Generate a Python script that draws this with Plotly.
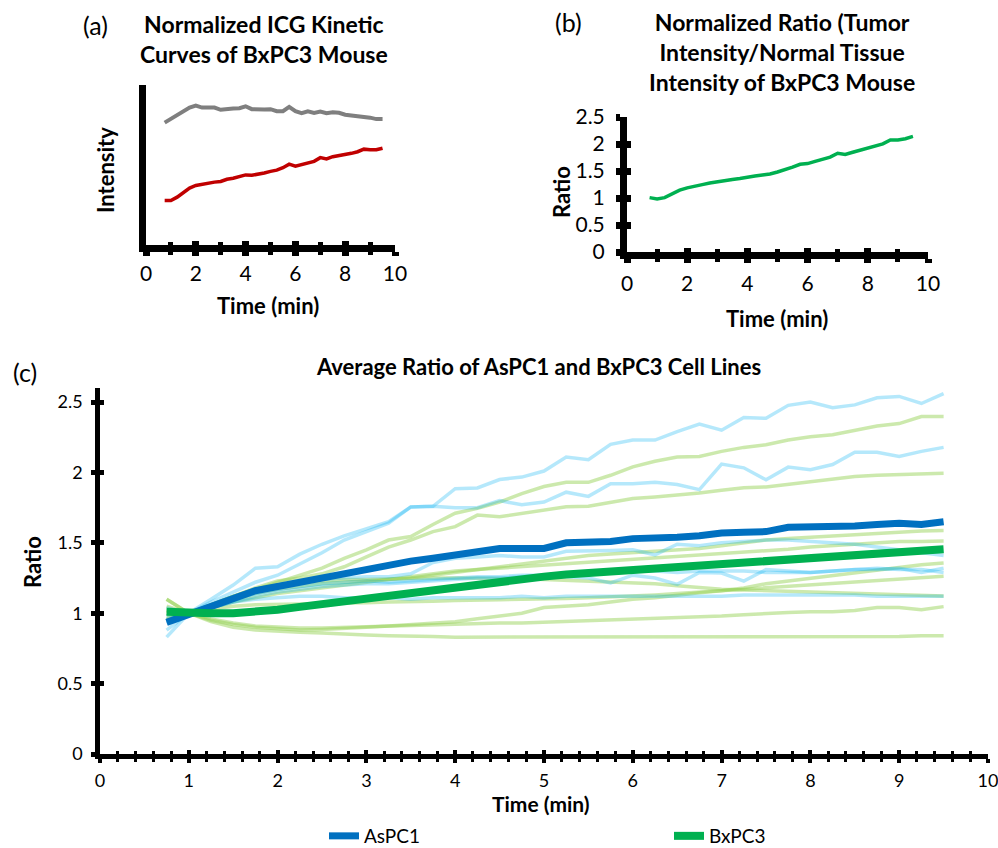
import plotly.graph_objects as go

W, H = 998, 848
FONT = "Lato"

# ---------------- data ----------------
time_min = [0.75, 1.0, 1.25, 1.5, 1.75, 2.0, 2.25, 2.5, 2.75, 3.0, 3.25, 3.5,
            3.75, 4.0, 4.25, 4.5, 4.75, 5.0, 5.25, 5.5, 5.75, 6.0, 6.25, 6.5,
            6.75, 7.0, 7.25, 7.5, 7.75, 8.0, 8.25, 8.5, 8.75, 9.0, 9.25, 9.5]

# (a) normalized ICG kinetic curves (arbitrary intensity units)
normal_tissue = [0.765, 0.789, 0.818, 0.836, 0.859, 0.871, 0.859, 0.859, 0.859, 0.845, 0.851, 0.853,
                 0.855, 0.867, 0.849, 0.845, 0.847, 0.849, 0.836, 0.836, 0.863, 0.836, 0.824, 0.836,
                 0.826, 0.834, 0.824, 0.830, 0.826, 0.814, 0.810, 0.810, 0.804, 0.796, 0.787, 0.787]
tumor = [0.278, 0.278, 0.299, 0.325, 0.356, 0.372, 0.380, 0.387, 0.393, 0.397, 0.411, 0.417,
         0.425, 0.438, 0.436, 0.442, 0.450, 0.460, 0.468, 0.483, 0.505, 0.493, 0.503, 0.517,
         0.523, 0.546, 0.538, 0.552, 0.558, 0.564, 0.573, 0.583, 0.599, 0.595, 0.595, 0.605]

# (b) tumor / normal ratio
ratio_bxpc3_mouse = [1.007, 0.983, 1.007, 1.079, 1.145, 1.187, 1.223, 1.247, 1.277, 1.301, 1.331, 1.343,
                     1.361, 1.391, 1.409, 1.427, 1.445, 1.481, 1.523, 1.571, 1.625, 1.637, 1.679, 1.721,
                     1.757, 1.829, 1.805, 1.847, 1.883, 1.919, 1.960, 2.002, 2.074, 2.074, 2.098, 2.140]

# (c) individual AsPC1 mice
aspc1_mice = [
    [0.83, 1.00, 1.10, 1.20, 1.32, 1.33, 1.42, 1.49, 1.55, 1.60, 1.65, 1.755,
     1.76, 1.885, 1.89, 1.95, 1.967, 2.01, 2.11, 2.09, 2.20, 2.23, 2.23, 2.29,
     2.343, 2.30, 2.39, 2.385, 2.477, 2.50, 2.46, 2.48, 2.53, 2.54, 2.49, 2.56],
    [0.88, 1.00, 1.08, 1.15, 1.22, 1.27, 1.35, 1.43, 1.52, 1.58, 1.64, 1.755,
     1.76, 1.75, 1.75, 1.80, 1.77, 1.79, 1.86, 1.83, 1.92, 1.92, 1.93, 1.915,
     1.878, 2.06, 2.033, 1.948, 2.038, 2.02, 2.056, 2.143, 2.143, 2.113, 2.15, 2.178],
    [0.95, 1.00, 1.06, 1.12, 1.17, 1.20, 1.22, 1.24, 1.25, 1.26, 1.26, 1.28,
     1.36, 1.39, 1.40, 1.41, 1.40, 1.40, 1.44, 1.44, 1.445, 1.45, 1.415, 1.49,
     1.48, 1.50, 1.51, 1.52, 1.52, 1.51, 1.50, 1.49, 1.47, 1.45, 1.43, 1.41],
    [0.98, 1.00, 1.05, 1.10, 1.14, 1.17, 1.19, 1.21, 1.22, 1.23, 1.22, 1.23,
     1.24, 1.25, 1.26, 1.26, 1.27, 1.27, 1.26, 1.25, 1.215, 1.27, 1.25, 1.205,
     1.29, 1.285, 1.228, 1.31, 1.30, 1.29, 1.30, 1.31, 1.31, 1.32, 1.29, 1.32],
    [0.93, 1.00, 1.04, 1.08, 1.12, 1.15, 1.17, 1.19, 1.20, 1.21, 1.21, 1.22,
     1.23, 1.24, 1.25, 1.25, 1.26, 1.27, 1.28, 1.29, 1.29, 1.30, 1.30, 1.29,
     1.30, 1.30, 1.30, 1.29, 1.29, 1.29, 1.30, 1.31, 1.32, 1.31, 1.31, 1.29],
    [1.04, 1.00, 1.04, 1.08, 1.10, 1.11, 1.12, 1.12, 1.11, 1.11, 1.11, 1.10,
     1.11, 1.11, 1.11, 1.11, 1.12, 1.11, 1.12, 1.12, 1.12, 1.12, 1.12, 1.12,
     1.12, 1.12, 1.13, 1.13, 1.13, 1.13, 1.13, 1.13, 1.12, 1.12, 1.12, 1.12],
]

# (c) individual BxPC3 mice
bxpc3_mice = [
    [0.98, 1.00, 1.06, 1.12, 1.17, 1.22, 1.27, 1.32, 1.39, 1.45, 1.52, 1.545,
     1.63, 1.71, 1.745, 1.79, 1.85, 1.90, 1.93, 1.93, 1.98, 2.04, 2.08, 2.11,
     2.113, 2.15, 2.178, 2.197, 2.23, 2.254, 2.268, 2.30, 2.33, 2.347, 2.397, 2.397],
    [1.00, 1.00, 1.06, 1.12, 1.18, 1.23, 1.25, 1.28, 1.33, 1.40, 1.47, 1.52,
     1.58, 1.615, 1.697, 1.685, 1.709, 1.732, 1.756, 1.76, 1.79, 1.815, 1.826, 1.838,
     1.854, 1.873, 1.892, 1.897, 1.915, 1.932, 1.948, 1.972, 1.98, 1.986, 1.99, 1.995],
    [1.02, 1.00, 1.05, 1.10, 1.14, 1.17, 1.19, 1.21, 1.22, 1.23, 1.24, 1.25,
     1.27, 1.29, 1.31, 1.33, 1.35, 1.37, 1.39, 1.41, 1.42, 1.43, 1.44, 1.45,
     1.46, 1.48, 1.50, 1.52, 1.53, 1.54, 1.55, 1.56, 1.57, 1.58, 1.585, 1.587],
    [0.96, 1.00, 1.04, 1.08, 1.11, 1.14, 1.16, 1.18, 1.20, 1.22, 1.24, 1.26,
     1.28, 1.30, 1.31, 1.32, 1.33, 1.34, 1.35, 1.36, 1.37, 1.38, 1.39, 1.40,
     1.41, 1.42, 1.43, 1.44, 1.455, 1.47, 1.48, 1.49, 1.50, 1.51, 1.51, 1.514],
    [1.10, 1.00, 0.95, 0.92, 0.90, 0.89, 0.88, 0.885, 0.89, 0.90, 0.91, 0.92,
     0.93, 0.94, 0.96, 0.98, 1.00, 1.04, 1.05, 1.06, 1.08, 1.10, 1.11, 1.13,
     1.146, 1.16, 1.18, 1.21, 1.23, 1.25, 1.27, 1.29, 1.31, 1.33, 1.345, 1.357],
    [0.95, 1.00, 1.03, 1.05, 1.06, 1.06, 1.065, 1.07, 1.07, 1.075, 1.08, 1.08,
     1.085, 1.09, 1.09, 1.095, 1.10, 1.10, 1.105, 1.11, 1.115, 1.12, 1.13, 1.14,
     1.15, 1.16, 1.17, 1.18, 1.19, 1.20, 1.21, 1.22, 1.23, 1.24, 1.25, 1.263],
    [1.10, 1.00, 1.06, 1.12, 1.17, 1.20, 1.22, 1.23, 1.24, 1.24, 1.245, 1.25,
     1.25, 1.25, 1.25, 1.25, 1.245, 1.24, 1.235, 1.23, 1.225, 1.22, 1.21, 1.195,
     1.18, 1.17, 1.165, 1.16, 1.155, 1.15, 1.145, 1.14, 1.135, 1.13, 1.125, 1.122],
    [1.05, 1.00, 0.96, 0.93, 0.91, 0.90, 0.895, 0.895, 0.90, 0.90, 0.905, 0.91,
     0.915, 0.92, 0.925, 0.93, 0.93, 0.935, 0.94, 0.95, 0.955, 0.96, 0.965, 0.97,
     0.975, 0.98, 0.99, 1.00, 1.005, 1.01, 1.01, 1.02, 1.04, 1.04, 1.025, 1.047],
    [1.02, 1.00, 0.94, 0.90, 0.88, 0.87, 0.865, 0.86, 0.85, 0.845, 0.84, 0.84,
     0.835, 0.83, 0.83, 0.83, 0.83, 0.83, 0.83, 0.83, 0.835, 0.835, 0.835, 0.835,
     0.835, 0.835, 0.835, 0.835, 0.83, 0.83, 0.835, 0.835, 0.835, 0.835, 0.84, 0.84],
]

aspc1_mean = [0.935, 0.99, 1.05, 1.11, 1.16, 1.19, 1.22, 1.26, 1.29, 1.32, 1.34, 1.37,
              1.39, 1.41, 1.44, 1.46, 1.46, 1.46, 1.50, 1.50, 1.51, 1.53, 1.53, 1.54,
              1.55, 1.57, 1.575, 1.58, 1.61, 1.61, 1.61, 1.62, 1.63, 1.64, 1.63, 1.65]
bxpc3_mean = [1.01, 1.00, 1.00, 1.00, 1.01, 1.025, 1.045, 1.065, 1.09, 1.11, 1.125, 1.145,
              1.17, 1.19, 1.21, 1.23, 1.245, 1.26, 1.275, 1.285, 1.295, 1.305, 1.315, 1.325,
              1.335, 1.345, 1.355, 1.37, 1.38, 1.39, 1.40, 1.41, 1.425, 1.435, 1.445, 1.455]

# ---------------- layout helpers ----------------
def px_x(p):
    return p / W

def px_y(p):
    return 1 - p / H

fig = go.Figure()

# (a)
fig.add_trace(go.Scatter(x=time_min, y=normal_tissue, mode="lines", xaxis="x", yaxis="y",
                         line=dict(color="#7F7F7F", width=4), showlegend=False, hoverinfo="skip"))
fig.add_trace(go.Scatter(x=time_min, y=tumor, mode="lines", xaxis="x", yaxis="y",
                         line=dict(color="#C00000", width=3.5), showlegend=False, hoverinfo="skip"))
# (b)
fig.add_trace(go.Scatter(x=time_min, y=ratio_bxpc3_mouse, mode="lines", xaxis="x2", yaxis="y2",
                         line=dict(color="#00B050", width=3.5), showlegend=False, hoverinfo="skip"))
# (c) individuals
for ys in bxpc3_mice:
    fig.add_trace(go.Scatter(x=time_min, y=ys, mode="lines", xaxis="x3", yaxis="y3",
                             line=dict(color="rgba(146,208,80,0.47)", width=3.5),
                             showlegend=False, hoverinfo="skip"))
for ys in aspc1_mice:
    fig.add_trace(go.Scatter(x=time_min, y=ys, mode="lines", xaxis="x3", yaxis="y3",
                             line=dict(color="rgba(0,176,240,0.29)", width=3.5),
                             showlegend=False, hoverinfo="skip"))
fig.add_trace(go.Scatter(x=time_min, y=aspc1_mean, mode="lines", xaxis="x3", yaxis="y3",
                         name="AsPC1", line=dict(color="#0070C0", width=7), hoverinfo="skip"))
fig.add_trace(go.Scatter(x=time_min, y=bxpc3_mean, mode="lines", xaxis="x3", yaxis="y3",
                         name="BxPC3", line=dict(color="#00B050", width=8), hoverinfo="skip"))

# dummy traces to activate the overlay (inside-tick) axes
for xa, ya in [("x4", "y"), ("x5", "y5"), ("x6", "y6")]:
    fig.add_trace(go.Scatter(x=[None], y=[None], xaxis=xa, yaxis=ya, showlegend=False,
                             hoverinfo="skip"))

tickfont_ab = dict(family=FONT, size=21, color="black")
tickfont_c = dict(family=FONT, size=18, color="black")

# domains (pixels)
dom_a_x = [px_x(146), px_x(395)]
dom_a_y = [px_y(245), px_y(85)]
dom_b_x = [px_x(627), px_x(928)]
dom_b_y = [px_y(252), px_y(117)]
dom_c_x = [px_x(100), px_x(988)]
dom_c_y = [px_y(754), px_y(388)]

NOAUTO = dict(automargin=False, showgrid=False, zeroline=False, ticklabeloverflow="allow")

common_x_ab = dict(range=[0, 10], dtick=2, tick0=0, tickfont=tickfont_ab, **NOAUTO)

fig.update_layout(
    width=W, height=H, margin=dict(l=0, r=0, t=0, b=0, autoexpand=False),
    paper_bgcolor="white", plot_bgcolor="white",
    font=dict(family=FONT, color="black"),
    # (a)
    xaxis=dict(domain=dom_a_x, anchor="y", showline=True, linewidth=7, linecolor="black",
               ticks="outside", ticklen=4, tickwidth=7, tickcolor="black",
               minor=dict(dtick=1, ticks="outside", ticklen=3, tickwidth=5, tickcolor="black"),
               **common_x_ab),
    yaxis=dict(domain=dom_a_y, anchor="x", range=[0, 1], showline=True, linewidth=7,
               linecolor="black", showticklabels=False, ticks="", **NOAUTO),
    xaxis4=dict(overlaying="x", anchor="y", range=[0, 10], dtick=2, showline=False,
                showticklabels=False, ticks="inside", ticklen=4, tickwidth=7, tickcolor="black",
                minor=dict(dtick=1, ticks="inside", ticklen=3, tickwidth=5, tickcolor="black"),
                **NOAUTO),
    # (b)
    xaxis2=dict(domain=dom_b_x, anchor="y2", showline=True, linewidth=7, linecolor="black",
                ticks="outside", ticklen=4, tickwidth=7, tickcolor="black", ticklabelstandoff=3,
                minor=dict(dtick=1, ticks="outside", ticklen=3, tickwidth=5, tickcolor="black"),
                **common_x_ab),
    yaxis2=dict(domain=dom_b_y, anchor="x2", range=[0, 2.5], dtick=0.5, showline=True,
                linewidth=7, linecolor="black", ticks="outside", ticklen=4, tickwidth=7,
                tickcolor="black", tickfont=tickfont_ab, ticklabelstandoff=7, **NOAUTO),
    xaxis5=dict(overlaying="x2", anchor="y5", range=[0, 10], dtick=2, showline=False,
                showticklabels=False, ticks="inside", ticklen=4, tickwidth=7, tickcolor="black",
                minor=dict(dtick=1, ticks="inside", ticklen=3, tickwidth=5, tickcolor="black"),
                **NOAUTO),
    yaxis5=dict(overlaying="y2", anchor="x5", range=[0, 2.5], dtick=0.5, showline=False,
                showticklabels=False, ticks="inside", ticklen=4, tickwidth=7, tickcolor="black",
                **NOAUTO),
    # (c)
    xaxis3=dict(domain=dom_c_x, anchor="y3", range=[0, 10], dtick=1, showline=True,
                linewidth=4.5, linecolor="black", ticks="outside", ticklen=4, tickwidth=3.5,
                tickcolor="black", ticklabelstandoff=3,
                minor=dict(dtick=0.2, ticks="outside", ticklen=3, tickwidth=2.5, tickcolor="black"),
                tickfont=tickfont_c, **NOAUTO),
    yaxis3=dict(domain=dom_c_y, anchor="x3", range=[0, 2.6], dtick=0.5, tick0=0, showline=True,
                linewidth=4.5, linecolor="black", ticks="outside", ticklen=4, tickwidth=4.5,
                tickcolor="black", tickfont=tickfont_c, ticklabelstandoff=5, **NOAUTO),
    xaxis6=dict(overlaying="x3", anchor="y6", range=[0, 10], dtick=1, showline=False,
                showticklabels=False, ticks="inside", ticklen=4, tickwidth=3.5, tickcolor="black",
                minor=dict(dtick=0.2, ticks="inside", ticklen=3, tickwidth=2.5, tickcolor="black"),
                **NOAUTO),
    yaxis6=dict(overlaying="y3", anchor="x6", range=[0, 2.6], dtick=0.5, tick0=0, showline=False,
                showticklabels=False, ticks="inside", ticklen=4, tickwidth=4.5, tickcolor="black",
                **NOAUTO),
    legend=dict(orientation="h", x=px_x(324), xanchor="left", y=px_y(836), yanchor="middle",
                entrywidth=300, entrywidthmode="pixels", font=dict(family=FONT, size=19),
                bgcolor="rgba(0,0,0,0)", itemclick=False, itemdoubleclick=False,
                tracegroupgap=0),
)

def ann(text, x, y, size, bold=False, angle=0, align="center"):
    fig.add_annotation(text=f"<b>{text}</b>" if bold else text, x=px_x(x), y=px_y(y),
                       xref="paper", yref="paper", xanchor="center", yanchor="middle",
                       showarrow=False, textangle=angle, align=align,
                       font=dict(family=FONT, size=size, color="black"))

# panel labels
ann("(a)", 95, 25, 25)
ann("(b)", 568, 22, 25)
ann("(c)", 25, 372, 25)
# titles
ann("Normalized ICG Kinetic<br>Curves of BxPC3 Mouse", 264, 39, 23, bold=True)
ann("Normalized Ratio (Tumor<br>Intensity/Normal Tissue<br>Intensity of BxPC3 Mouse", 782, 52, 23, bold=True)
ann("Average Ratio of AsPC1 and BxPC3 Cell Lines", 538, 367, 22, bold=True)
# axis titles
ann("Intensity", 105, 170, 22, bold=True, angle=-90)
ann("Time (min)", 268, 305, 22, bold=True)
ann("Ratio", 562, 192, 22, bold=True, angle=-90)
ann("Time (min)", 777, 318, 22, bold=True)
ann("Ratio", 32, 562, 22, bold=True, angle=-90)
ann("Time (min)", 541, 803, 21, bold=True)

fig.write_html("out.html", config={"displayModeBar": False},
               post_script="document.body.style.margin='0';")
